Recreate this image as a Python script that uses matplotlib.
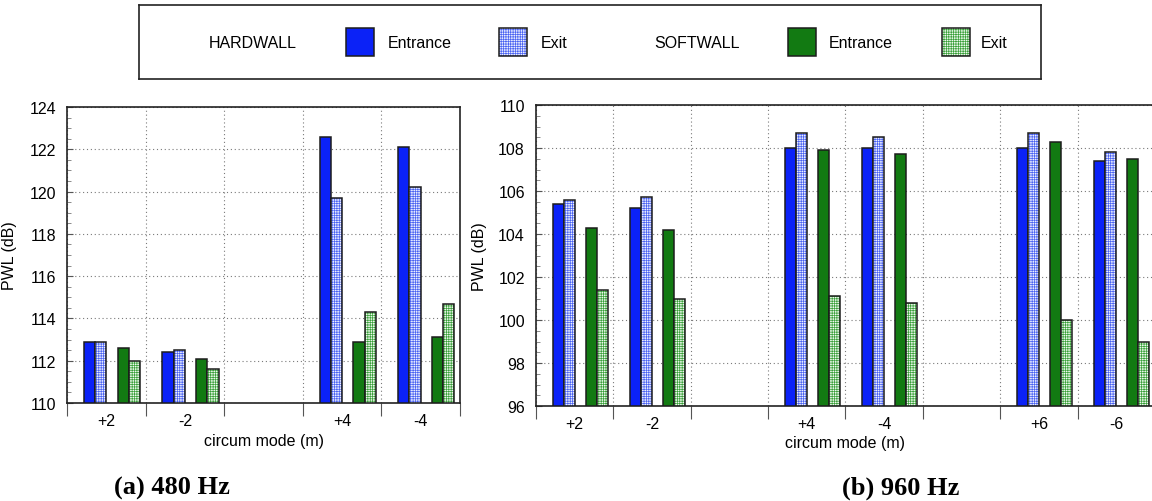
import numpy as np
import matplotlib
matplotlib.use('Agg')
import matplotlib.pyplot as plt
from matplotlib.patches import Rectangle
from matplotlib.ticker import MultipleLocator

plt.rcParams['font.family'] = ['Liberation Sans', 'DejaVu Sans']
plt.rcParams['hatch.linewidth'] = 0.5

nan = np.nan

# 480 Hz case, empty slot kept as a spacer between mode pairs
modes_480 = ['+2', '-2', '', '+4', '-4']
hard_in_480 = [112.9, 112.4, nan, 122.6, 122.1]
hard_out_480 = [112.9, 112.5, nan, 119.7, 120.2]
soft_in_480 = [112.6, 112.1, nan, 112.9, 113.1]
soft_out_480 = [112.0, 111.6, nan, 114.3, 114.7]

# 960 Hz case
modes_960 = ['+2', '-2', '', '+4', '-4', '', '+6', '-6']
hard_in_960 = [105.4, 105.2, nan, 108.0, 108.0, nan, 108.0, 107.4]
hard_out_960 = [105.6, 105.7, nan, 108.7, 108.5, nan, 108.7, 107.8]
soft_in_960 = [104.3, 104.2, nan, 107.9, 107.7, nan, 108.3, 107.5]
soft_out_960 = [101.4, 101.0, nan, 101.1, 100.8, nan, 100.0, 99.0]

BLUE = '#0b22f7'
GREEN = '#127a12'
EDGE = '#1c1c1c'

# (face, hatch colour or None)
styles = [
    (BLUE, None),
    ('#eef0ff', '#4a63f2'),
    (GREEN, None),
    ('#eefaee', '#3aa03a'),
]
offsets = [1.5 / 7, 2.5 / 7, 4.5 / 7, 5.5 / 7]
bw = 1 / 7


def draw_bar(ax, x, bottom, height, face, hcol):
    if hcol is None:
        ax.bar(x, height, width=bw, bottom=bottom, align='edge', color=face,
               edgecolor=EDGE, linewidth=1.1, zorder=3)
    else:
        ax.bar(x, height, width=bw, bottom=bottom, align='edge', color=face,
               edgecolor=hcol, hatch='+++++++', linewidth=0, zorder=3)
        ax.bar(x, height, width=bw, bottom=bottom, align='edge', fill=False,
               edgecolor=EDGE, linewidth=1.1, zorder=4)


def draw_panel(ax, modes, series, ymin, ymax):
    n = len(modes)
    slots = np.arange(n)
    for off, vals, (face, hcol) in zip(offsets, series, styles):
        vals = np.asarray(vals)
        ok = ~np.isnan(vals)
        draw_bar(ax, slots[ok] + off, ymin, vals[ok] - ymin, face, hcol)

    ax.set_xlim(0, n)
    ax.set_ylim(ymin, ymax)
    ax.set_xticks(np.arange(n + 1))
    ax.set_xticklabels([])
    ax.set_xticks(slots + 0.5, labels=modes, minor=True)
    ax.tick_params(axis='x', which='major', direction='out', length=9,
                   color='#555555', width=0.8)
    ax.tick_params(axis='x', which='minor', length=0, pad=7, labelsize=11.5)

    ax.yaxis.set_major_locator(MultipleLocator(2))
    ax.yaxis.set_minor_locator(MultipleLocator(0.5))
    ax.tick_params(axis='y', which='major', direction='in', length=4,
                   pad=8, labelsize=11.5, color='#555555')
    ax.tick_params(axis='y', which='minor', direction='in', length=3,
                   color='#777777', width=0.6)

    ax.grid(True, which='major', linestyle=(0, (1, 2.5)), color='#7a7a7a',
            linewidth=0.8)
    ax.set_axisbelow(True)
    for sp in ax.spines.values():
        sp.set_color('#222222')
        sp.set_linewidth(1.2)

    ax.set_xlabel('circum mode (m)', fontsize=11.5)
    ax.set_ylabel('PWL (dB)', fontsize=11.5)


W, H = 1152, 502
fig = plt.figure(figsize=(W / 100, H / 100), dpi=100)


def px_axes(x0, y0, x1, y1):
    return fig.add_axes([x0 / W, 1 - y1 / H, (x1 - x0) / W, (y1 - y0) / H])


ax1 = px_axes(67, 108, 460, 404)
draw_panel(ax1, modes_480,
           [hard_in_480, hard_out_480, soft_in_480, soft_out_480], 110, 124)
ax1.yaxis.set_label_coords(-0.127, 0.5)
ax1.xaxis.set_label_coords(0.5, -0.10)

ax2 = px_axes(536, 106, 1155, 407)
draw_panel(ax2, modes_960,
           [hard_in_960, hard_out_960, soft_in_960, soft_out_960], 96, 110)
ax2.yaxis.set_label_coords(-0.079, 0.5)
ax2.xaxis.set_label_coords(0.5, -0.095)

# legend box across the top
lg = px_axes(139, 6, 1041, 80)
lg.set_xlim(139, 1041)
lg.set_ylim(80, 6)
lg.set_xticks([])
lg.set_yticks([])
for sp in lg.spines.values():
    sp.set_color('#222222')
    sp.set_linewidth(1.2)

legend_items = [
    ('HARDWALL', 209, None),
    ('Entrance', 388, (346, 0)),
    ('Exit', 541, (499, 1)),
    ('SOFTWALL', 654, None),
    ('Entrance', 829, (788, 2)),
    ('Exit', 981, (942, 3)),
]
for label, tx, patch in legend_items:
    lg.text(tx, 43, label, fontsize=11.5, va='center', ha='left')
    if patch is not None:
        px, k = patch
        face, hcol = styles[k]
        if hcol is None:
            lg.add_patch(Rectangle((px, 29), 28, 28, facecolor=face,
                                   edgecolor=EDGE, linewidth=1.1))
        else:
            lg.add_patch(Rectangle((px, 29), 28, 28, facecolor=face,
                                   edgecolor=hcol, hatch='+++++++',
                                   linewidth=0))
            lg.add_patch(Rectangle((px, 29), 28, 28, fill=False,
                                   edgecolor=EDGE, linewidth=1.1))

fig.text(172 / W, 1 - 488 / H, '(a) 480 Hz', family='Liberation Serif',
         fontweight='bold', fontsize=19, ha='center', va='center')
fig.text(901 / W, 1 - 488 / H, '(b) 960 Hz', family='Liberation Serif',
         fontweight='bold', fontsize=19, ha='center', va='center')

fig.savefig('out.png', dpi=100)
